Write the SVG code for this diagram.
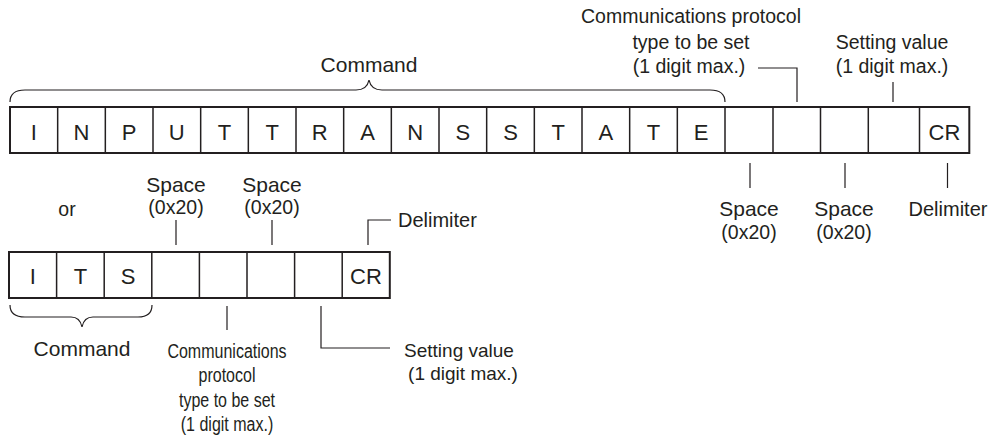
<svg xmlns="http://www.w3.org/2000/svg" width="993" height="441" viewBox="0 0 993 441">
<style>
text{font-family:"Liberation Sans",Arial,sans-serif;fill:#231f20}
.lbl{font-size:19.5px;text-anchor:middle}
.big{font-size:21px}
.cell{font-size:22px;text-anchor:middle}
.box{fill:#fff;stroke:#231f20;stroke-width:2}
.div{stroke:#231f20;stroke-width:1.5;fill:none}
.ln{stroke:#231f20;stroke-width:1.2;fill:none}
</style>
<rect width="993" height="441" fill="#fff"/>

<g id="top-row">
<rect class="box" x="10" y="107" width="959.3" height="46"/>
<path class="div" d="M57.67,107V153M105.33,107V153M153,107V153M200.67,107V153M248.33,107V153M296,107V153M343.67,107V153M391.33,107V153M439,107V153M486.67,107V153M534.33,107V153M582,107V153M629.67,107V153M677.33,107V153M725,107V153M773,107V153M820.5,107V153M868.3,107V153M919.5,107V153"/>
<text class="cell" x="33.8" y="140">I</text>
<text class="cell" x="81.5" y="140">N</text>
<text class="cell" x="129.2" y="140">P</text>
<text class="cell" x="176.8" y="140">U</text>
<text class="cell" x="224.5" y="140">T</text>
<text class="cell" x="272.2" y="140">T</text>
<text class="cell" x="319.8" y="140">R</text>
<text class="cell" x="367.5" y="140">A</text>
<text class="cell" x="415.2" y="140">N</text>
<text class="cell" x="462.8" y="140">S</text>
<text class="cell" x="510.5" y="140">S</text>
<text class="cell" x="558.2" y="140">T</text>
<text class="cell" x="605.8" y="140">A</text>
<text class="cell" x="653.5" y="140">T</text>
<text class="cell" x="701.2" y="140">E</text>
<text class="cell" x="944.4" y="140">CR</text>
</g>

<g id="top-brace">
<path class="ln" d="M10,102 Q10,90 25,90 L356,90 Q367,90 369,80 Q371,90 382,90 L710,90 Q725,90 725,102"/>
<text class="lbl big" x="369" y="72">Command</text>
</g>

<g id="top-comm-label">
<text class="lbl" x="691" y="23">Communications protocol</text>
<text class="lbl" x="691" y="48.5">type to be set</text>
<text class="lbl" x="689" y="73">(1 digit max.)</text>
</g>
<g id="top-setting-label">
<text class="lbl" x="892" y="48.5">Setting value</text>
<text class="lbl" x="892" y="73">(1 digit max.)</text>
</g>
<g id="top-space1"><text class="lbl big" x="749" y="216">Space</text><text class="lbl" x="749" y="239">(0x20)</text></g>
<g id="top-space2"><text class="lbl big" x="844" y="216">Space</text><text class="lbl" x="844" y="239">(0x20)</text></g>
<g id="top-delim"><text class="lbl" style="font-size:20px" x="948" y="216">Delimiter</text></g>

<g id="bottom-row">
<rect class="box" x="9" y="252" width="380.8" height="46"/>
<path class="div" d="M56.6,252V298M104.2,252V298M151.8,252V298M199.4,252V298M247,252V298M294.6,252V298M342.2,252V298"/>
<text class="cell" x="32.8" y="284">I</text>
<text class="cell" x="80.4" y="284">T</text>
<text class="cell" x="128" y="284">S</text>
<text class="cell" x="366" y="284">CR</text>
</g>

<g id="bottom-brace">
<path class="ln" d="M10,305 Q10,317 25,317 L71,317 Q80,317 82,327 Q84,317 93,317 L138,317 Q152,317 152,305"/>
<text class="lbl big" x="82" y="356">Command</text>
</g>

<g id="or"><text class="lbl" x="67" y="216">or</text></g>
<g id="bot-space1"><text class="lbl big" x="176" y="192">Space</text><text class="lbl" x="176" y="214">(0x20)</text></g>
<g id="bot-space2"><text class="lbl big" x="272" y="192">Space</text><text class="lbl" x="272" y="214">(0x20)</text></g>
<g id="bot-delim"><text class="lbl" x="398" y="227" style="text-anchor:start;font-size:20px">Delimiter</text></g>
<g id="bot-comm-label" transform="translate(227,0) scale(0.8,1)">
<text class="lbl" style="font-size:20px" x="0" y="358">Communications</text>
<text class="lbl" style="font-size:20px" x="0" y="382">protocol</text>
<text class="lbl" style="font-size:20px" x="0" y="407">type to be set</text>
<text class="lbl" style="font-size:20px" x="0" y="431">(1 digit max.)</text>
</g>
<g id="bot-setting-label">
<text class="lbl" style="font-size:19px" x="459" y="357">Setting value</text>
<text class="lbl" style="font-size:19px" x="463" y="380">(1 digit max.)</text>
</g>

<g id="connectors">
<path class="ln" d="M758,68H797V102"/>
<path class="ln" d="M893,82V102"/>
<path class="ln" d="M750,163V188M845,163V188M947.5,163V188"/>
<path class="ln" d="M176,220V245M272,220V245"/>
<path class="ln" d="M368,245V220H391"/>
<path class="ln" d="M227,306V330"/>
<path class="ln" d="M321,306V348H390"/>
</g>
</svg>
